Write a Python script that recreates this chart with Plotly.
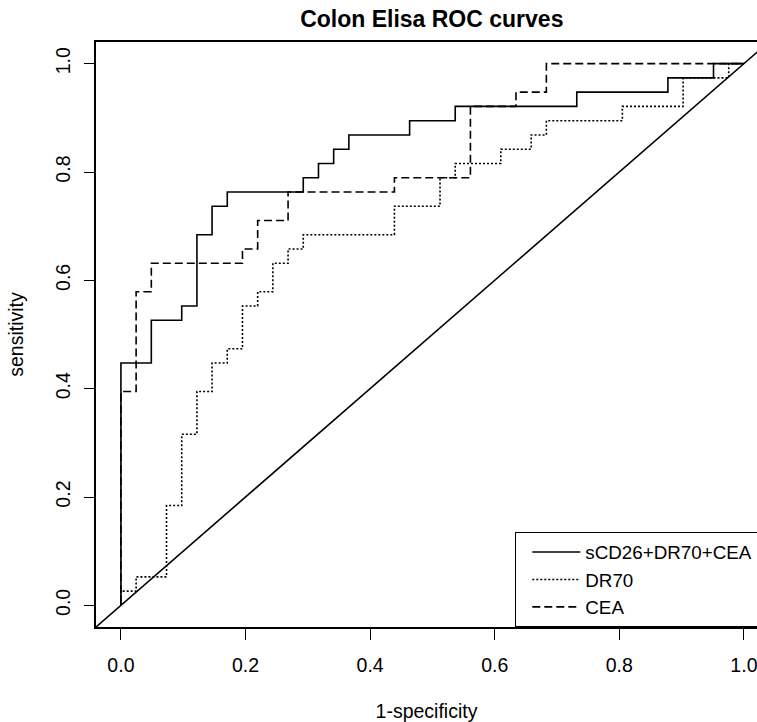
import plotly.graph_objects as go

# ROC points (1-specificity, sensitivity) for each marker; steps drawn horizontal-then-vertical
combo_fpr = [0.0, 0.0, 0.0488, 0.0976, 0.1220, 0.1463, 0.1707, 0.2927, 0.3171, 0.3415,
             0.3659, 0.4634, 0.5366, 0.7317, 0.8780, 0.9512, 1.0]
combo_tpr = [0.0, 0.4474, 0.5263, 0.5526, 0.6842, 0.7368, 0.7632, 0.7895, 0.8158, 0.8421,
             0.8684, 0.8947, 0.9211, 0.9474, 0.9737, 1.0, 1.0]

dr70_fpr = [0.0, 0.0, 0.0244, 0.0732, 0.0976, 0.1220, 0.1463, 0.1707, 0.1951, 0.2195,
            0.2439, 0.2683, 0.2927, 0.4390, 0.5122, 0.5366, 0.6098, 0.6585, 0.6829,
            0.8049, 0.9024, 0.9756, 1.0]
dr70_tpr = [0.0, 0.0263, 0.0526, 0.1842, 0.3158, 0.3947, 0.4474, 0.4737, 0.5526, 0.5789,
            0.6316, 0.6579, 0.6842, 0.7368, 0.7895, 0.8158, 0.8421, 0.8684, 0.8947,
            0.9211, 0.9737, 1.0, 1.0]

cea_fpr = [0.0, 0.0, 0.0244, 0.0488, 0.1951, 0.2195, 0.2683, 0.4390, 0.5610, 0.6341,
           0.6829, 1.0]
cea_tpr = [0.0, 0.3947, 0.5789, 0.6316, 0.6579, 0.7105, 0.7632, 0.7895, 0.9211, 0.9474,
           1.0, 1.0]

series_names = ["sCD26+DR70+CEA", "DR70", "CEA"]
chance_line = [-0.04, 1.04]
tick_vals = [0.0, 0.2, 0.4, 0.6, 0.8, 1.0]
tick_text = ["0.0", "0.2", "0.4", "0.6", "0.8", "1.0"]

FONT = "Liberation Sans, Arial, Helvetica, sans-serif"
INK = "black"
LW = 1.6
FS = 19.5

fig = go.Figure()

fig.add_trace(go.Scatter(
    x=combo_fpr, y=combo_tpr, mode="lines", name=series_names[0],
    line=dict(color=INK, width=LW, shape="hv"),
))
fig.add_trace(go.Scatter(
    x=dr70_fpr, y=dr70_tpr, mode="lines", name=series_names[1],
    line=dict(color=INK, width=LW, shape="hv", dash="2px,2px"),
))
fig.add_trace(go.Scatter(
    x=cea_fpr, y=cea_tpr, mode="lines", name=series_names[2],
    line=dict(color=INK, width=LW, shape="hv", dash="8px,4px"),
))
# reference diagonal
fig.add_trace(go.Scatter(
    x=chance_line, y=chance_line, mode="lines", showlegend=False,
    line=dict(color=INK, width=1.6),
))

fig.update_layout(
    width=757, height=722,
    margin=dict(l=96, r=0, t=41.5, b=94.5, autoexpand=False),
    paper_bgcolor="white", plot_bgcolor="white",
    font=dict(family=FONT, size=FS, color=INK),
    title=dict(
        text="<b>Colon Elisa ROC curves</b>",
        font=dict(family=FONT, size=23, color=INK),
        xref="paper", x=0.508, xanchor="center",
        yref="container", y=1 - 19 / 722, yanchor="middle",
    ),
    showlegend=True,
    legend=dict(
        x=(515 - 96) / 661, xanchor="left",
        y=0, yanchor="bottom",
        bgcolor="white", bordercolor=INK, borderwidth=1.3,
        font=dict(family=FONT, size=18.8, color=INK),
        itemwidth=48, indentation=11, tracegroupgap=0,
    ),
)

fig.update_xaxes(
    range=[-0.04, 1.021], tickvals=tick_vals, ticktext=tick_text,
    showgrid=False, zeroline=False,
    showline=True, linecolor=INK, linewidth=1.5, mirror=True,
    ticks="outside", ticklen=11, tickwidth=1.3, tickcolor=INK,
    ticklabelstandoff=9, ticklabeloverflow="allow",
    tickfont=dict(family=FONT, size=FS, color=INK),
    title=dict(text="1-specificity", font=dict(family=FONT, size=FS, color=INK), standoff=30),
)
fig.update_yaxes(
    range=[-0.04, 1.04], tickvals=tick_vals, ticktext=tick_text, tickangle=-90,
    showgrid=False, zeroline=False,
    showline=True, linecolor=INK, linewidth=1.5, mirror=False,
    ticks="outside", ticklen=10, tickwidth=1.3, tickcolor=INK,
    ticklabelstandoff=6, ticklabeloverflow="allow",
    tickfont=dict(family=FONT, size=FS, color=INK),
    title=dict(text="sensitivity", font=dict(family=FONT, size=FS, color=INK), standoff=24),
)

fig.write_html("out.html")
